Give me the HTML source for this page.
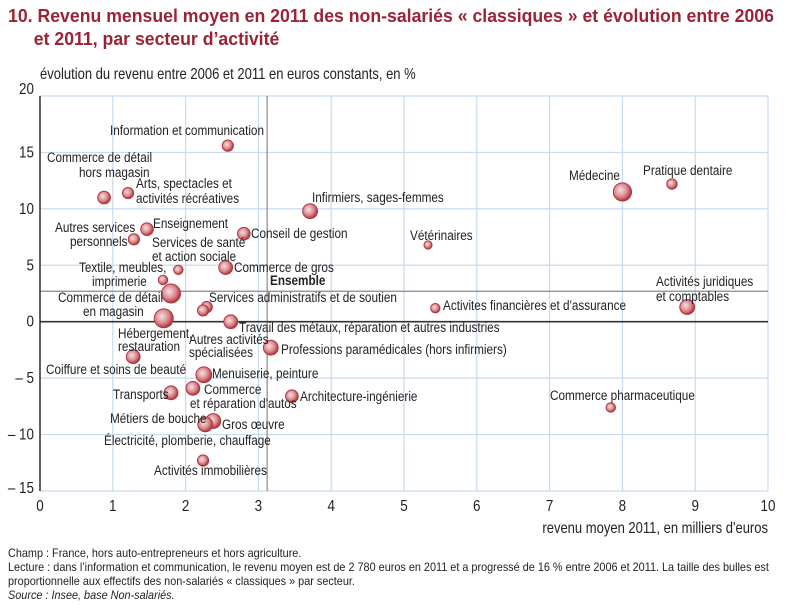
<!DOCTYPE html>
<html><head><meta charset="utf-8">
<style>
body{margin:0;background:#fff;width:808px;height:614px;overflow:hidden;font-family:"Liberation Sans",sans-serif;}
.title{position:absolute;left:8px;top:4px;color:#9b2335;font-weight:bold;font-size:18.5px;line-height:23px;white-space:nowrap;transform:scaleX(0.955);transform-origin:0 0;}
.notes{position:absolute;left:8px;top:546px;font-size:12px;line-height:14px;color:#222;width:860px;transform:scaleX(0.905);transform-origin:0 0;}
svg text{font-family:"Liberation Sans",sans-serif;fill:#222;}
</style></head><body>
<div class="title">10. Revenu mensuel moyen en 2011 des non-salariés « classiques » et évolution entre 2006<br><span style="padding-left:27px">et 2011, par secteur d’activité</span></div>
<svg id="chart" width="808" height="614" style="position:absolute;left:0;top:0">
<defs><radialGradient id="bg" cx="40%" cy="40%" r="60%"><stop offset="0" stop-color="#f7e0e0"/><stop offset="0.6" stop-color="#d98a8e"/><stop offset="1" stop-color="#b0353f"/></radialGradient></defs>
<g id="grid"></g><g id="axes"></g><g id="bubbles"></g><g id="labels"></g>
</svg>
<div class="notes">Champ : France, hors auto-entrepreneurs et hors agriculture.<br>Lecture : dans l’information et communication, le revenu moyen est de 2 780 euros en 2011 et a progressé de 16 % entre 2006 et 2011. La taille des bulles est<br>proportionnelle aux effectifs des non-salariés « classiques » par secteur.<br><i>Source : Insee, base Non-salariés.</i></div>
<script>
const sectors=["Information et communication","Commerce de détail hors magasin","Arts, spectacles","Médecine","Pratique dentaire","Infirmiers","Enseignement","Autres services personnels","Conseil de gestion","Vétérinaires","Services de santé","Commerce de gros","Textile","Commerce de détail en magasin","Services administratifs","Autres activités spécialisées","Activités financières","Activités juridiques","Hébergement","Travail des métaux","Professions paramédicales","Coiffure","Menuiserie","Transports","Commerce réparation autos","Architecture","Commerce pharmaceutique","Gros œuvre","Métiers de bouche","Activités immobilières"];
const revenu=[2.58,0.88,1.21,8.0,8.68,3.71,1.47,1.29,2.80,5.33,1.90,2.55,1.69,1.80,2.29,2.24,5.43,8.89,1.70,2.62,3.17,1.28,2.25,1.80,2.10,3.46,7.84,2.38,2.27,2.24];
const evolution=[15.6,11.0,11.4,11.5,12.2,9.8,8.2,7.3,7.8,6.8,4.6,4.8,3.7,2.5,1.3,1.0,1.2,1.3,0.3,0.0,-2.3,-3.1,-4.7,-6.3,-5.9,-6.6,-7.6,-8.8,-9.1,-12.3];
const effectif=[2,3,2,9,1.5,5,3,2,3,0.5,1,4,1,10,2,2,1,5,10,4,5,4,6,4,4,3,1,5,5,2];
const xTicks=[0,1,2,3,4,5,6,7,8,9,10];
const yTicks=[20,15,10,5,0,-5,-10,-15];
const ensemble=[3.12,2.7];
const X0=40,X1=768,YT=96,YB=491;
const sx=v=>X0+(v-0)/10*(X1-X0);
const sy=v=>YB-(v+15)/35*(YB-YT);
const NS="http://www.w3.org/2000/svg";
const SC=0.84;
function mk(p,t,a){const e=document.createElementNS(NS,t);for(const k in a)e.setAttribute(k,a[k]);p.appendChild(e);return e;}
function txt(p,s,x,y,size,anchor,extra){const e=mk(p,'text',Object.assign({x:0,y:0,'font-size':size,'text-anchor':anchor||'start',transform:'translate('+x+','+y+') scale('+SC+',1)'},extra||{}));e.textContent=s;return e;}
const grid=document.getElementById('grid'),axes=document.getElementById('axes'),bub=document.getElementById('bubbles'),lab=document.getElementById('labels');
xTicks.forEach(t=>{
 const l=mk(grid,'line',{x1:sx(t),x2:sx(t),y1:YT,y2:YB,stroke:'#c8daf0','stroke-width':1.2});
 
 
 const tx=txt(axes,String(t),sx(t),YB+20,16,'middle');
 
 
});
yTicks.forEach(t=>{
 if(t!==0){const l=mk(grid,'line',{x1:X0,x2:X1,y1:sy(t),y2:sy(t),stroke:'#c8daf0','stroke-width':1.2});
 
 }
 const tx=txt(axes,(t<0?'– '+(-t):String(t)),34,sy(t)+(t===20?-2:(t===-15?2:5)),16,'end');
 
 
});
let e;
e=mk(axes,'line',{x1:sx(ensemble[0]),x2:sx(ensemble[0]),y1:YT,y2:YB,stroke:'#888','stroke-width':1.2});


e=mk(axes,'line',{x1:X0,x2:X1,y1:sy(ensemble[1]),y2:sy(ensemble[1]),stroke:'#888','stroke-width':1.2});


e=mk(axes,'line',{x1:X0,x2:X1,y1:sy(0),y2:sy(0),stroke:'#333','stroke-width':1.6});


e=mk(axes,'line',{x1:X0,x2:X0,y1:YT,y2:YB,stroke:'#222','stroke-width':1.4});


e=txt(axes,'évolution du revenu entre 2006 et 2011 en euros constants, en %',40,79,15.5);


e=txt(axes,"revenu moyen 2011, en milliers d'euros",768,533,15.5,'end');


e=txt(axes,'Ensemble',270,285,14,'start',{'font-weight':'bold'});


sectors.forEach((s,i)=>{
 const r=2.5+Math.sqrt(effectif[i])*2.2;
 const c=mk(bub,'circle',{cx:sx(revenu[i]),cy:sy(evolution[i]),r:r,fill:'url(#bg)',stroke:'#b0353f','stroke-width':1});
 
 
});
const labels=[
["Information et communication",110,135],["Commerce de détail",47,162],["hors magasin",79,177],["Arts, spectacles et",136,188],["activités récréatives",136,203],
["Médecine",569,180],["Pratique dentaire",643,175],["Infirmiers, sages-femmes",312,202],["Vétérinaires",410,240],
["Autres services",55,232],["personnels",70,246],["Enseignement",153,228],["Conseil de gestion",251,238],
["Services de santé",152,247],["et action sociale",152,261],["Commerce de gros",234,272],["Textile, meubles,",79,272],["imprimerie",92,286],
["Commerce de détail",58,302],["en magasin",83,316],["Services administratifs et de soutien",209,302],["Activites financières et d'assurance",443,310],
["Activités juridiques",656,286],["et comptables",656,301],["Hébergement,",118,338],["restauration",118,351],["Travail des métaux, réparation et autres industries",239,332],
["Autres activités",189,344],["spécialisées",189,357],["Professions paramédicales (hors infirmiers)",281,354],["Coiffure et soins de beauté",46,374],
["Menuiserie, peinture",212,378],["Transports",113,399],["Commerce",204,394],["et réparation d'autos",190,408],["Architecture-ingénierie",300,401],
["Commerce pharmaceutique",550,400],["Métiers de bouche",110,423],["Gros œuvre",222,429],["Électricité, plomberie, chauffage",104,445],["Activités immobilières",154,475]];
labels.forEach(l=>{const t=txt(lab,l[0],l[1],l[2],14);
 
 });
</script>
</body></html>
